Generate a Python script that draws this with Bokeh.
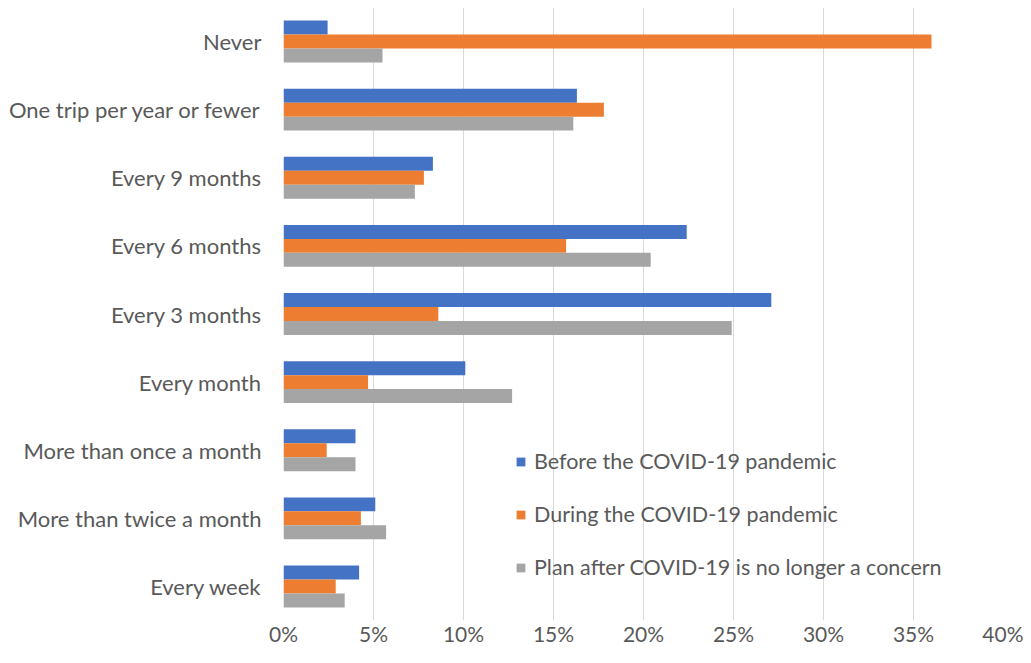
from bokeh.plotting import figure
from bokeh.models import FactorRange, ColumnDataSource, FixedTicker, PrintfTickFormatter, Legend, LegendItem
from bokeh.transform import dodge
from bokeh.embed import file_html
from bokeh.resources import INLINE

categories = ["Never", "One trip per year or fewer", "Every 9 months", "Every 6 months",
              "Every 3 months", "Every month", "More than once a month",
              "More than twice a month", "Every week"]
before = [2.45, 16.3, 8.3, 22.4, 27.1, 10.1, 4.0, 5.1, 4.2]
during = [36.0, 17.8, 7.8, 15.7, 8.6, 4.7, 2.4, 4.3, 2.9]
after = [5.5, 16.1, 7.3, 20.4, 24.9, 12.7, 4.0, 5.7, 3.4]
series_names = ["Before the COVID-19 pandemic", "During the COVID-19 pandemic",
                "Plan after COVID-19 is no longer a concern"]
x_ticks = [0, 5, 10, 15, 20, 25, 30, 35, 40]

colors = ["#4472C4", "#ED7D31", "#A5A5A5"]
FONT = "Lato"
TXT = "#595959"

src = ColumnDataSource(dict(cat=categories, before=before, during=during, after=after))

p = figure(width=1023, height=655, output_backend="svg", toolbar_location=None,
           y_range=FactorRange(*list(reversed(categories))), x_range=(0, 40),
           min_border_left=283, min_border_right=20, min_border_top=7, min_border_bottom=35)

bw = 0.205
r1 = p.hbar(y=dodge("cat", bw, range=p.y_range), right="before", left=0, height=bw,
            source=src, color=colors[0], line_color=None)
r2 = p.hbar(y=dodge("cat", 0, range=p.y_range), right="during", left=0, height=bw,
            source=src, color=colors[1], line_color=None)
r3 = p.hbar(y=dodge("cat", -bw, range=p.y_range), right="after", left=0, height=bw,
            source=src, color=colors[2], line_color=None)

p.outline_line_color = None
p.ygrid.grid_line_color = None
p.xgrid.grid_line_color = "#d9d9d9"
p.xgrid.grid_line_width = 1
p.xaxis.ticker = FixedTicker(ticks=x_ticks)
p.xaxis.formatter = PrintfTickFormatter(format="%d%%")
for ax in (p.xaxis[0], p.yaxis[0]):
    ax.axis_line_color = None
    ax.major_tick_line_color = None
    ax.minor_tick_line_color = None
    ax.major_label_text_font = FONT
    ax.major_label_text_color = TXT
p.yaxis.major_label_text_font_size = "22px"
p.xaxis.major_label_text_font_size = "21px"
p.xaxis.major_label_standoff = -6
p.yaxis.major_label_standoff = 16

legend = Legend(items=[LegendItem(label=series_names[0], renderers=[r1]),
                       LegendItem(label=series_names[1], renderers=[r2]),
                       LegendItem(label=series_names[2], renderers=[r3])],
                location=(232, 40), background_fill_alpha=0, border_line_alpha=0,
                label_text_font=FONT, label_text_font_size="21.5px", label_text_color=TXT,
                glyph_width=11, glyph_height=11, label_height=20, spacing=27,
                label_standoff=8, padding=0, margin=0)
p.add_layout(legend)

open("out.html", "w").write(file_html(p, INLINE))
